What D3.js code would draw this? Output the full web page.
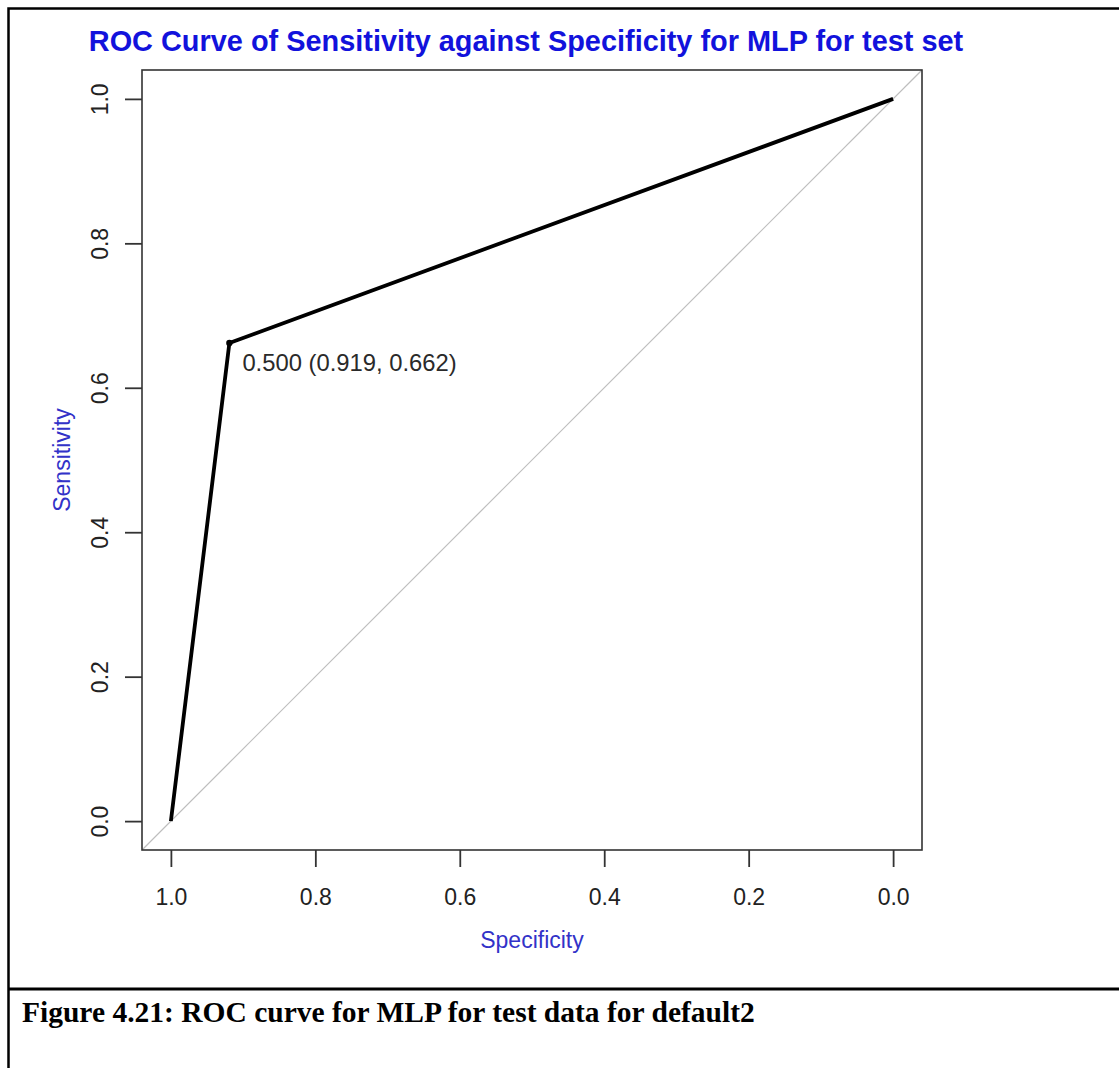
<!DOCTYPE html>
<html>
<head>
<meta charset="utf-8">
<script src="https://cdn.jsdelivr.net/npm/d3@7"></script>
<style>
  html, body { margin: 0; padding: 0; background: #fff; }
  svg { display: block; }
</style>
</head>
<body>
<svg id="fig" width="1119" height="1068"></svg>
<script>
// ROC curve points (specificity, sensitivity) for the MLP test set
const specificity = [1.0, 0.919, 0.0];
const sensitivity = [0.0, 0.662, 1.0];
const thresholdLabel = "0.500 (0.919, 0.662)";
const markedIndex = 1;

const xTicks = [1.0, 0.8, 0.6, 0.4, 0.2, 0.0];
const yTicks = [0.0, 0.2, 0.4, 0.6, 0.8, 1.0];

const titleText = "ROC Curve of Sensitivity against Specificity for MLP for test set";
const xLabel = "Specificity";
const yLabel = "Sensitivity";
const captionText = "Figure 4.21: ROC curve for MLP for test data for default2";

const sans = "Liberation Sans, Arial, sans-serif";
const svg = d3.select("#fig");

// Plot region (R style: axes padded 4% beyond the data range)
const box = { left: 142, right: 922, top: 70, bottom: 850 };
const padX = (box.right - box.left) * 0.04 / 1.08;
const padY = (box.bottom - box.top) * 0.04 / 1.08;

const x = d3.scaleLinear().domain([1, 0]).range([box.left + padX, box.right - padX]);
const y = d3.scaleLinear().domain([0, 1]).range([box.bottom - padY, box.top + padY]);

// Document frame around figure and caption
svg.append("path")
  .attr("d", "M1125,8.5 H8.5 V1075")
  .attr("fill", "none").attr("stroke", "#000").attr("stroke-width", 2.5);
svg.append("line")
  .attr("x1", 8).attr("x2", 1125).attr("y1", 989).attr("y2", 989)
  .attr("stroke", "#000").attr("stroke-width", 3);

// Chance diagonal spanning the whole plot box
svg.append("line")
  .attr("x1", x(1.04)).attr("y1", y(-0.04))
  .attr("x2", x(-0.04)).attr("y2", y(1.04))
  .attr("stroke", "#bebebe").attr("stroke-width", 1.2);

// ROC curve
const pts = specificity.map((s, i) => ({ s, v: sensitivity[i] }));
svg.append("path")
  .datum(pts)
  .attr("d", d3.line().x(d => x(d.s)).y(d => y(d.v)))
  .attr("fill", "none").attr("stroke", "#000").attr("stroke-width", 3.8)
  .attr("stroke-linejoin", "round");

svg.append("circle")
  .attr("cx", x(pts[markedIndex].s)).attr("cy", y(pts[markedIndex].v))
  .attr("r", 3.2).attr("fill", "#000");

svg.append("text")
  .attr("x", x(pts[markedIndex].s) + 13).attr("y", y(pts[markedIndex].v) + 28)
  .attr("font-family", sans)
  .attr("font-size", 23.8).attr("fill", "#2a2a2a")
  .text(thresholdLabel);

// Plot frame
svg.append("rect")
  .attr("x", box.left).attr("y", box.top)
  .attr("width", box.right - box.left).attr("height", box.bottom - box.top)
  .attr("fill", "none").attr("stroke", "#333").attr("stroke-width", 1.6);

// Axes
const xAxis = d3.axisBottom(x).tickValues(xTicks).tickFormat(d3.format(".1f"))
  .tickSize(17).tickSizeOuter(0);
const gx = svg.append("g").attr("transform", `translate(0,${box.bottom})`).call(xAxis);
gx.select(".domain").remove();
gx.selectAll(".tick line").attr("stroke", "#333").attr("stroke-width", 1.8);
gx.selectAll(".tick text")
  .attr("font-family", sans)
  .attr("font-size", 23).attr("fill", "#222")
  .attr("y", 47).attr("dy", "0.35em");

const yAxis = d3.axisLeft(y).tickValues(yTicks).tickFormat(d3.format(".1f"))
  .tickSize(17).tickSizeOuter(0);
const gy = svg.append("g").attr("transform", `translate(${box.left},0)`).call(yAxis);
gy.select(".domain").remove();
gy.selectAll(".tick line").attr("stroke", "#333").attr("stroke-width", 1.8);
gy.selectAll(".tick text")
  .attr("font-family", sans)
  .attr("font-size", 23).attr("fill", "#222")
  .attr("x", 0).attr("dy", "0.35em")
  .attr("text-anchor", "middle")
  .attr("transform", "translate(-42,0) rotate(-90)");

// Titles
svg.append("text")
  .attr("x", 526).attr("y", 51)
  .attr("text-anchor", "middle")
  .attr("font-family", sans)
  .attr("font-weight", "bold").attr("font-size", 28.9)
  .attr("fill", "#1212dc")
  .text(titleText);

svg.append("text")
  .attr("x", (box.left + box.right) / 2).attr("y", 940).attr("dy", "0.35em")
  .attr("text-anchor", "middle")
  .attr("font-family", sans)
  .attr("font-size", 23).attr("fill", "#3232c8")
  .text(xLabel);

svg.append("text")
  .attr("transform", `translate(62,${(box.top + box.bottom) / 2}) rotate(-90)`)
  .attr("dy", "0.35em")
  .attr("text-anchor", "middle")
  .attr("font-family", sans)
  .attr("font-size", 23).attr("fill", "#3232c8")
  .text(yLabel);

// Caption
svg.append("text")
  .attr("x", 22).attr("y", 1022)
  .attr("font-family", "Liberation Serif, Times New Roman, serif")
  .attr("font-weight", "bold").attr("font-size", 29.5)
  .attr("fill", "#000")
  .text(captionText);
</script>
</body>
</html>
